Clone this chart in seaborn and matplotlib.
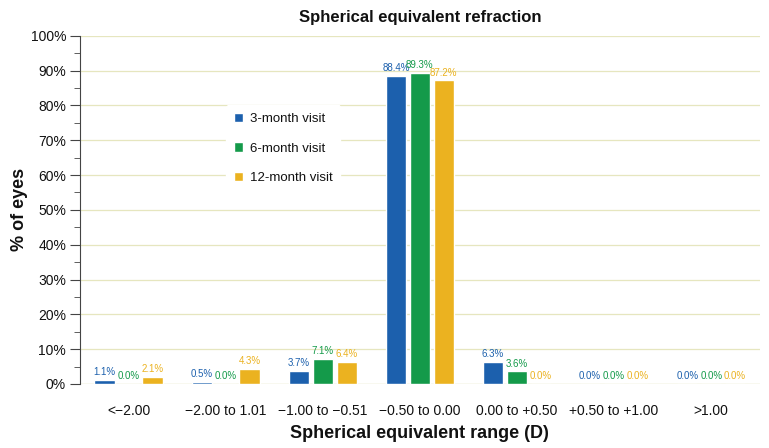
import matplotlib
matplotlib.use("Agg")
import matplotlib.pyplot as plt
import seaborn as sns
import pandas as pd
import numpy as np
from matplotlib.ticker import MultipleLocator, PercentFormatter

categories = ["<\u22122.00", "\u22122.00 to 1.01", "\u22121.00 to \u22120.51", "\u22120.50 to 0.00",
              "0.00 to +0.50", "+0.50 to +1.00", ">1.00"]
series = ["3-month visit", "6-month visit", "12-month visit"]
v3 = [1.1, 0.5, 3.7, 88.4, 6.3, 0.0, 0.0]
v6 = [0.0, 0.0, 7.1, 89.3, 3.6, 0.0, 0.0]
v12 = [2.1, 4.3, 6.4, 87.2, 0.0, 0.0, 0.0]
colors = ["#1c60ad", "#149a4a", "#ebb220"]

rows = []
for s, vals in zip(series, [v3, v6, v12]):
    for c, v in zip(categories, vals):
        rows.append({"cat": c, "series": s, "val": v})
df = pd.DataFrame(rows)

sns.set_style("white")
plt.rcParams['font.family'] = ['Liberation Sans', 'DejaVu Sans']
plt.rcParams['text.color'] = '#111111'
plt.rcParams['axes.labelcolor'] = '#111111'
plt.rcParams['xtick.color'] = '#111111'
plt.rcParams['ytick.color'] = '#111111'

fig = plt.figure(figsize=(7.69, 4.48), dpi=100)
ax = fig.add_axes([0.104, 0.143, 0.884, 0.777])
sns.barplot(data=df, x="cat", y="val", hue="series", palette=colors, saturation=1,
            width=0.74, gap=0.15, ax=ax, legend=True, zorder=3)

ax.set_ylim(0, 100)
ax.set_xlim(-0.5, len(categories) - 0.5)
ax.yaxis.set_major_locator(MultipleLocator(10))
ax.yaxis.set_minor_locator(MultipleLocator(5))
ax.yaxis.set_major_formatter(PercentFormatter(decimals=0))
ax.grid(axis="y", which="major", color="#e6e6bf", lw=0.9, zorder=0)
for sp in ["top", "right", "bottom"]:
    ax.spines[sp].set_visible(False)
ax.spines["left"].set_color("#444444")
ax.tick_params(axis="y", which="major", left=True, length=7, color="#444444", labelsize=10, pad=3)
ax.tick_params(axis="y", which="minor", left=True, length=4, color="#444444")
ax.tick_params(axis="x", bottom=False, labelsize=10, pad=11)
ax.axhline(0, color="#e6e6bf", lw=0.9, zorder=1)

ax.set_xlabel("Spherical equivalent range (D)", fontsize=13, fontweight="bold", labelpad=5)
ax.set_ylabel("% of eyes", fontsize=13, fontweight="bold")
ax.yaxis.set_label_coords(-0.076, 0.5)
ax.set_title("Spherical equivalent refraction", fontsize=12, fontweight="bold", pad=10)

for cont, col in zip(ax.containers, colors):
    labels = [f"{v:.1f}%" for v in cont.datavalues]
    ax.bar_label(cont, labels=labels, color=col, fontsize=7, padding=2)

handles, labels_ = ax.get_legend_handles_labels()
leg = ax.legend(handles, labels_, loc="upper left", bbox_to_anchor=(0.205, 0.82),
                frameon=True, framealpha=1, edgecolor="white", fontsize=9.5,
                handlelength=0.7, handleheight=0.7, handletextpad=0.5,
                labelspacing=1.3, borderpad=0.6)
leg.set_zorder(5)

fig.savefig("out.png", dpi=100)
